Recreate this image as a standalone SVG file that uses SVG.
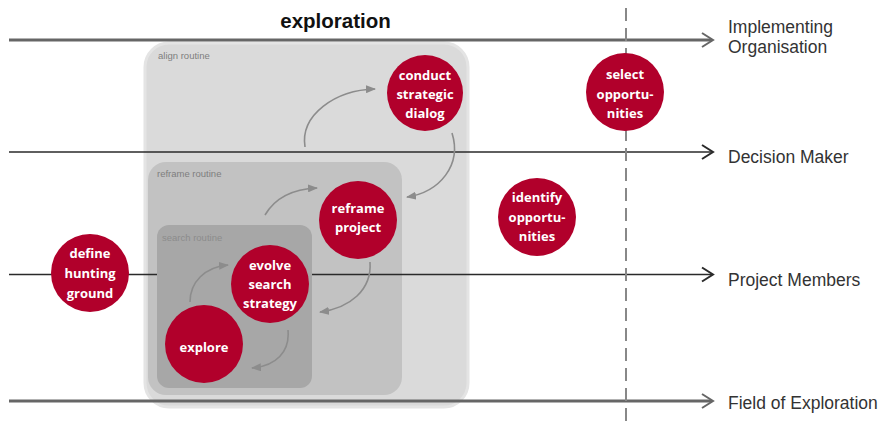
<svg xmlns="http://www.w3.org/2000/svg" width="885" height="421" viewBox="0 0 885 421">
<style>
.lane{fill:none;stroke-linecap:butt}
.thick{stroke:#666;stroke-width:3}
.thin{stroke:#2a2a2a;stroke-width:1.6}
.chev{fill:none;stroke-width:2;stroke-linejoin:miter}
.lbl{font-family:"Liberation Sans",Arial,sans-serif;font-size:17.5px;fill:#333}
.rt{font-family:"Liberation Sans",Arial,sans-serif;font-size:9.5px;fill:#7e7e7e}
.node circle{fill:#b1002b}
.node text{font-family:"Open Sans","Liberation Sans",sans-serif;font-weight:bold;font-size:13px;fill:#fff;text-anchor:middle}
.flow{fill:none;stroke:#8c8c8c;stroke-width:1.6;marker-end:url(#ah)}
</style>
<defs>
<marker id="ah" viewBox="0 0 10 8" refX="9" refY="4" markerWidth="10" markerHeight="8" markerUnits="userSpaceOnUse" orient="auto">
<path d="M0,0 L10,4 L0,8 Z" fill="#8c8c8c"/>
</marker>
</defs>
<rect width="885" height="421" fill="#fff"/>

<!-- routine boxes -->
<g id="align-routine">
<rect x="145" y="43" width="323" height="364" rx="24" fill="#dadada" stroke="#e4e4e4" stroke-width="3"/>
<text class="rt" x="158" y="59">align routine</text>
</g>
<g id="reframe-routine">
<rect x="148" y="162" width="254" height="233" rx="18" fill="#c2c2c2"/>
<text class="rt" x="157" y="177">reframe routine</text>
</g>

<!-- lanes -->
<g id="lanes">
<line class="lane thick" x1="9" y1="40" x2="712" y2="40"/>
<polyline class="chev" stroke="#666" points="702,33 713,40 702,47"/>
<line class="lane thin" x1="9" y1="152" x2="712" y2="152"/>
<polyline class="chev" stroke="#2a2a2a" points="702,145 713,152 702,159"/>
<line class="lane thin" x1="9" y1="274.5" x2="712" y2="274.5"/>
<polyline class="chev" stroke="#2a2a2a" points="702,267.5 713,274.5 702,281.5"/>
<line class="lane thick" x1="9" y1="401" x2="712" y2="401"/>
<polyline class="chev" stroke="#666" points="702,394 713,401 702,408"/>
<line x1="626" y1="8" x2="626" y2="421" stroke="#888" stroke-width="2" stroke-dasharray="13,7"/>
</g>

<g id="search-routine">
<rect x="157" y="225" width="155" height="163" rx="12" fill="#a7a7a7"/>
<text class="rt" x="162" y="241" style="fill:#8c8c8c">search routine</text>
</g>

<!-- labels -->
<text x="335.5" y="28" font-family="Liberation Sans,Arial,sans-serif" font-weight="bold" font-size="20.5" fill="#111" text-anchor="middle">exploration</text>
<text class="lbl" x="728" y="33">Implementing</text>
<text class="lbl" x="728" y="53">Organisation</text>
<text class="lbl" x="728" y="163">Decision Maker</text>
<text class="lbl" x="728" y="286">Project Members</text>
<text class="lbl" x="728" y="409">Field of Exploration</text>

<!-- connectors -->
<g id="connectors">
<path class="flow" d="M190,302 C190,282 205,267 228,265"/>
<path class="flow" d="M288,330 C290,352 276,366 252,368"/>
<path class="flow" d="M265,215 C275,198 292,189 317,188"/>
<path class="flow" d="M370,262 C372,290 350,308 320,312"/>
<path class="flow" d="M305,147 C300,115 335,90 375,89"/>
<path class="flow" d="M452,133 C462,165 440,192 407,197"/>
</g>

<!-- nodes -->
<g id="conduct-strategic-dialog" class="node">
<circle cx="425" cy="93" r="38"/>
<text x="425" y="80">conduct</text>
<text x="425" y="99">strategic</text>
<text x="425" y="118">dialog</text>
</g>
<g id="reframe-project" class="node">
<circle cx="358" cy="220" r="39"/>
<text x="358" y="213">reframe</text>
<text x="358" y="232">project</text>
</g>
<g id="evolve-search-strategy" class="node">
<circle cx="270" cy="284" r="39"/>
<text x="270" y="270">evolve</text>
<text x="270" y="289">search</text>
<text x="270" y="308">strategy</text>
</g>
<g id="explore" class="node">
<circle cx="204" cy="344" r="39"/>
<text x="204" y="352">explore</text>
</g>
<g id="define-hunting-ground" class="node">
<circle cx="90" cy="273" r="39"/>
<text x="90" y="258">define</text>
<text x="90" y="278">hunting</text>
<text x="90" y="298">ground</text>
</g>
<g id="select-opportunities" class="node">
<circle cx="625" cy="92" r="39"/>
<text x="625" y="79">select</text>
<text x="625" y="99">opportu-</text>
<text x="625" y="118">nities</text>
</g>
<g id="identify-opportunities" class="node">
<circle cx="537" cy="217" r="39"/>
<text x="537" y="202">identify</text>
<text x="537" y="222">opportu-</text>
<text x="537" y="241">nities</text>
</g>
</svg>
